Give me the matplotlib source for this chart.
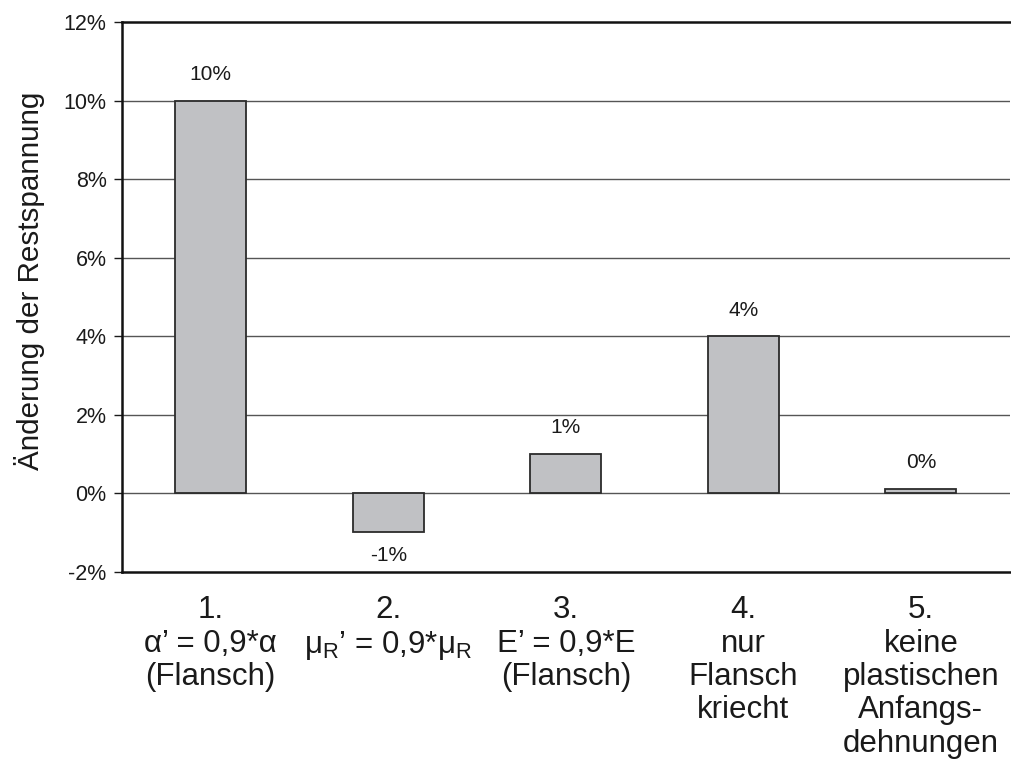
import matplotlib
matplotlib.use("Agg")
import matplotlib.pyplot as plt

plt.rcParams["font.family"] = ["Liberation Sans", "DejaVu Sans"]
plt.rcParams["mathtext.fontset"] = "custom"
plt.rcParams["mathtext.rm"] = "Liberation Sans"
plt.rcParams["mathtext.it"] = "Liberation Sans:italic"
plt.rcParams["mathtext.bf"] = "Liberation Sans:bold"

# Change of residual stress per parameter variation (in %)
categories = [
    "1.\nα’ = 0,9*α\n(Flansch)",
    "2.\nμ$_\\mathrm{R}$’ = 0,9*μ$_\\mathrm{R}$",
    "3.\nE’ = 0,9*E\n(Flansch)",
    "4.\nnur\nFlansch\nkriecht",
    "5.\nkeine\nplastischen\nAnfangs-\ndehnungen",
]
values = [10.0, -1.0, 1.0, 4.0, 0.1]
value_labels = ["10%", "-1%", "1%", "4%", "0%"]
y_ticks = [-2, 0, 2, 4, 6, 8, 10, 12]
y_tick_labels = ["-2%", "0%", "2%", "4%", "6%", "8%", "10%", "12%"]
y_label = "Änderung der Restspannung"

fig = plt.figure(figsize=(10.11, 7.60), dpi=100)
ax = fig.add_axes([0.1207, 0.248, 0.878, 0.7224])

x = list(range(len(values)))
ax.bar(x, values, width=0.4, color="#c0c1c4", edgecolor="#2b2b2b",
       linewidth=1.3, zorder=3)

for xi, v, lab in zip(x, values, value_labels):
    if v >= 0:
        ax.annotate(lab, (xi, v), xytext=(0, 12), textcoords="offset points",
                    ha="center", va="bottom", fontsize=15, color="#1a1a1a")
    else:
        ax.annotate(lab, (xi, v), xytext=(0, -10), textcoords="offset points",
                    ha="center", va="top", fontsize=15, color="#1a1a1a")

ax.set_xlim(-0.5, len(values) - 0.5)
ax.set_ylim(-2, 12)
ax.set_yticks(y_ticks)
ax.set_yticklabels(y_tick_labels, fontsize=15.5, color="#1a1a1a")
ax.tick_params(axis="y", length=6, width=1.0, color="#1a1a1a", pad=5)

ax.set_xticks(x)
ax.set_xticklabels(categories, fontsize=22.5, color="#1a1a1a",
                   linespacing=1.15, va="top")
ax.tick_params(axis="x", length=0, pad=17)

# horizontal grid lines
for t in y_ticks[1:-1]:
    ax.axhline(t, color="#555555", linewidth=1.0, zorder=1)
ax.axhline(12, color="#111111", linewidth=1.8, zorder=2, clip_on=False)

for side in ("right", "top"):
    ax.spines[side].set_visible(False)
ax.spines["left"].set_linewidth(1.8)
ax.spines["left"].set_color("#111111")
ax.spines["bottom"].set_linewidth(1.8)
ax.spines["bottom"].set_color("#111111")

ax.set_ylabel(y_label, fontsize=21.3, color="#1a1a1a")
ax.yaxis.set_label_coords(-0.087, 0.53)

fig.savefig("out.png", dpi=100)
